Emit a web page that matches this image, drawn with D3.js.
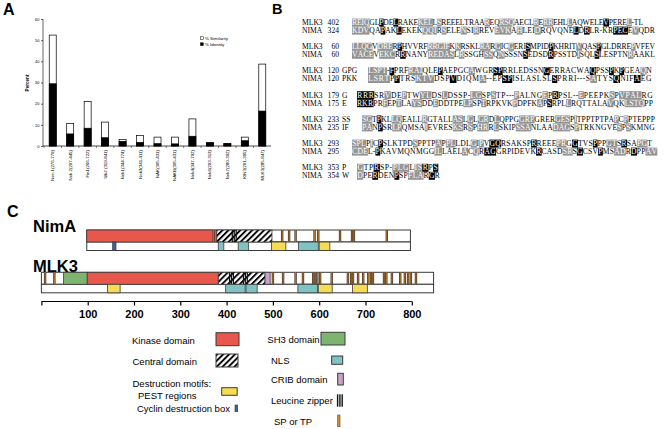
<!DOCTYPE html>
<html><head><meta charset="utf-8">
<script src="https://cdn.jsdelivr.net/npm/d3@7"></script>
<style>body{margin:0;background:#fff}svg{display:block}</style>
</head><body>
<svg id="c" width="664" height="429"></svg>
<script>
// ---------- Panel A data ----------
const categories = ["Nim-1(276-779)","Nek 2(297-445)","Fin1(266-722)","Slk2 (319-841)","Nek1(344-774)","Nek3(341-411)","NAK(305-431)","NAKB(305-431)","Nek4(347-792)","Nek6(293-313)","Nek7(280-302)","KIN3(291-395)","MLK3(285-847)"];
const similarity = [52.4,10.7,21.1,11.3,3.1,5.0,4.2,4.2,12.8,1.6,1.2,4.2,38.7];
const identity   = [29.4,5.7,8.4,3.9,2.2,1.7,1.1,1.0,4.6,1.5,1.1,2.5,16.5];
const yTicks = [0,10,20,30,40,50,60];
const legendA = ["% Similarity","% Identity"];

// ---------- Panel B data ----------
const alignNames    = ["MLK3","NIMA","MLK3","NIMA","MLK3","NIMA","MLK3","NIMA","MLK3","NIMA","MLK3","NIMA","MLK3","NIMA"];
const alignNumbers  = ["402","324","60","60","120","120","179","175","233","235","293","295","353","354"];
const alignPrefixes = ["","","","","GPG","PKK","G","E","SS","IF","","","P","W"];
const alignSeqs = [
 "[REIQ]GL{P}DE{L}RAKE[KEL]L[S]REEELTRAA[R]EQ[RSQ]AECL[R]E[RR]EHL[L]AQWELE{V}PERE[L]-TL",
 "[KDV]QA{P}AK{L}EKEK[QQI]R[S]ELE[N]SI[R]REV[EVK]A[H]LEI[D]RQVQNE{L}D{R}LR-KR{PEC}E[V]QDR",
 "[LLQG]V[DRE]R{P}HVVRF[RRG][IF]K[K]RSKL[RA]R[G]IC[G]ERI{S}MPID{P}KHRIT[V]QAS{P}GLDRRE[P]VFEV",
 "[VACE]V[EKC]R{R}NANY[RED][AS]L[R]SSGH[SS]Q[N]SSSN{S}EDSD{R}PSSTD[I]SQL{S}LESPTN[R]AAKL",
 "[LSPT]-{F}PRF[RAI]QLE{P}AEPGC[A]WGR{SP}RRLEDSSN{G}ERRACWA{Q}PSS{P}K{P}GEA[Q]N",
 "[LSRT]P{P}TRS[KTV]DSP{V}DIQM[A]--EP{SP}ISLASLSL{S}PRRI---S[A]TYS{Q}NIF{A}EG",
 "{RRR}SR[V]DE[P]TW[YL]DS[L]DSSP-[LG]SP[S]TP---[P]ALNG[E]P{R}PSL--[E]PEEPK[S]P[VPAL]RG",
 "{RKR}PR[F]EP[T]LA[YS]DD[E]DDTPE[LP]SP[T]RPKVK[P]DPFK[A]P{S}RPL[L]RQTTALA[V]QK[LSTQ]PP",
 "[SG]T{P}KL[LQ]EALL[R]GTALL[AS]L[G]L[GR]D[L]QPPG[GRP]GRER[GES]P[I]TPPTPTPA[P]C[P]PTEPPP",
 "[PA]N{P}SR[LP]QMSA[I]EVRES[KS]R[S]P[HR]R[L]SKIP[SSA]NLAA[DAG]S[P]TRKNGVE[S]P[S]KMNG",
 "[SPL]P[I]C{P}SLKTPD[S]PPTP[A]P[PL]LDL[G]I[P]V{GQ}RSAKSP{R}REEE[PR]G{G}TVS{P}PP[GT]S{R}SA[PG]T",
 "[CDE]L-{P}KAVMQNMGG[IL]LAEL[A]C[Q]R{AG}GRPIDEVK{R}CASD[SR]S{G}CSV{P}MS[AD]R{D}PP[AV]",
 "[G]TP{R}SP-[PLG]L[IS]{R}P{S}",
 "[D]PE{R}DEN{P}SP[FLA]R{G}R"
];

// ---------- Panel C data ----------
const mlk3Length = 847, nimaLength = 699, nimaOffset = 98;
const axisTicks = [0,100,200,300,400,500,600,700,800];
const mlk3Domains = [
 {type:"sh3",start:48,end:99},{type:"kinase",start:99,end:382},
 {type:"central",start:382,end:483},{type:"crib",start:483,end:494}];
const mlk3Zipper = [{start:405,end:416},{start:435,end:446}];
const mlk3SPTP = [8,28,500,522,549,565,587,591,596,602,627,662,669,673,684,695,706,712,716,740,745,757,775,785,792,798,809];
const mlk3Motifs = [
 {type:"pest",start:143,end:170},{type:"nls",start:398,end:440},{type:"nls",start:442,end:466},
 {type:"nls",start:554,end:596},{type:"pest",start:598,end:628},{type:"pest",start:672,end:704}];
const nimaDomains = [{type:"kinase",start:0,end:281},{type:"central",start:281,end:400}];
const nimaZipper = [{start:313,end:324}];
const nimaSPTP = [274,422,437,451,492,500,547,573,577,648];
const nimaMotifs = [
 {type:"cdb",start:56,end:63},{type:"nls",start:284,end:296},{type:"nls",start:327,end:349},
 {type:"pest",start:399,end:430},{type:"nls",start:457,end:500},{type:"pest",start:502,end:525}];

// ---------- styles ----------
const colors = {kinase:"#e8574b", sh3:"#7db56f", nls:"#80c3c3", pest:"#f6dc55", crib:"#c9a2c9", cdb:"#3d5fa8", sptp:"#d08a2e"};
const edge = "#3a3a3a";
const sans = "Liberation Sans, Arial, Helvetica, sans-serif";
const serif = "Liberation Serif, Times New Roman, serif";

const svg = d3.select("#c");
const defs = svg.append("defs");
const pat = defs.append("pattern").attr("id","hatch").attr("patternUnits","userSpaceOnUse")
  .attr("width",4.2).attr("height",4.2).attr("patternTransform","rotate(45)");
pat.append("rect").attr("width",4.2).attr("height",4.2).attr("fill","#fff");
pat.append("rect").attr("x",0).attr("width",1.9).attr("height",4.2).attr("fill","#000");

// panel labels
[["A",3,15,16],["B",272,13.5,14.5],["C",7,217,16]].forEach(([t,x,y,s])=>{
  svg.append("text").attr("x",x).attr("y",y).attr("font-family",sans).attr("font-weight","bold")
    .attr("font-size",s).text(t);
});

// ================= Panel A =================
{
  const gA = svg.append("g");
  const x = d3.scaleBand().domain(categories).range([44,271]).paddingInner(0.6).paddingOuter(0.3);
  const y = d3.scaleLinear().domain([0,60]).range([146,19]);
  const yAx = gA.append("g").attr("transform","translate(43,0)")
    .call(d3.axisLeft(y).tickValues(yTicks).tickSize(2).tickPadding(1.5));
  yAx.selectAll("text").attr("font-size",4).attr("font-family",sans);
  yAx.selectAll("line,path").attr("stroke","#000").attr("stroke-width",0.6);
  yAx.select("path").attr("d","M0,"+y(60)+"V"+y(0));
  gA.append("text").attr("transform","translate(29,83) rotate(-90)").attr("text-anchor","middle")
    .attr("font-family",sans).attr("font-size",4.6).attr("font-weight","bold").text("Percent");
  gA.append("line").attr("x1",43).attr("x2",271).attr("y1",146).attr("y2",146).attr("stroke","#000").attr("stroke-width",0.7);
  const step = x.step();
  categories.forEach((c,i)=>{
    const bx = x(c) - step*0.3;
    gA.append("line").attr("x1",bx).attr("x2",bx).attr("y1",146).attr("y2",148).attr("stroke","#000").attr("stroke-width",0.5);
  });
  const bars = gA.selectAll(".bar").data(categories).enter().append("g");
  bars.append("rect").attr("x",c=>x(c)).attr("width",x.bandwidth())
    .attr("y",(c,i)=>y(similarity[i])).attr("height",(c,i)=>y(0)-y(similarity[i]))
    .attr("fill","#fff").attr("stroke","#000").attr("stroke-width",0.7);
  bars.append("rect").attr("x",c=>x(c)).attr("width",x.bandwidth())
    .attr("y",(c,i)=>y(identity[i])).attr("height",(c,i)=>y(0)-y(identity[i]))
    .attr("fill","#000").attr("stroke","#000").attr("stroke-width",0.7);
  bars.append("text").attr("transform",c=>`translate(${x(c)+x.bandwidth()/2+1.5},150) rotate(-90)`)
    .attr("text-anchor","end").attr("font-family",sans).attr("font-size",4.4).text(c=>c);
  legendA.forEach((t,i)=>{
    gA.append("rect").attr("x",200.5).attr("y",36.8+i*6).attr("width",2.8).attr("height",2.8)
      .attr("fill",i===0?"#fff":"#000").attr("stroke","#000").attr("stroke-width",0.5);
    gA.append("text").attr("x",205).attr("y",39.6+i*6).attr("font-family",sans).attr("font-size",4.4).text(t);
  });
}

// ================= Panel B =================
{
  const gB = svg.append("g");
  const fs = 7.6;
  const meas = gB.append("text").attr("font-family",serif).attr("font-size",fs).attr("visibility","hidden");
  const cache = {};
  const cw = ch => { if(!(ch in cache)){ meas.text(ch); cache[ch]=meas.node().getComputedTextLength(); } return cache[ch]; };
  const parse = s => { const o=[]; let m='.'; for(const c of s){ if(c==='['){m='g';continue;} if(c==='{'){m='k';continue;} if(c===']'||c==='}'){m='.';continue;} o.push({c,m}); } return o; };
  const blockStartX = [352,352,368,357,362,352,357];
  const rowEndX = [643,655,655,655,652,652,653,653,655,655,652,657,438,440];
  alignSeqs.forEach((s,i)=>{
    const b = Math.floor(i/2);
    const yb = 25 + b*24.2 + (i%2)*8;
    gB.append("text").attr("x",302).attr("y",yb).attr("font-family",serif).attr("font-size",fs).text(alignNames[i]);
    gB.append("text").attr("x",339).attr("y",yb).attr("text-anchor","end").attr("font-family",serif).attr("font-size",fs).text(alignNumbers[i]);
    if(alignPrefixes[i]) gB.append("text").attr("x",342).attr("y",yb).attr("font-family",serif).attr("font-size",fs).text(alignPrefixes[i]);
    const chars = parse(s);
    const W = d3.sum(chars, d=>cw(d.c));
    const x0 = blockStartX[b];
    const k = (rowEndX[i]-x0)/W;
    let cum = 0;
    chars.forEach(d=>{ d.x = x0 + cum*k; d.w = cw(d.c)*k; cum += cw(d.c); });
    gB.selectAll(null).data(chars.filter(d=>d.m!=='.')).enter().append("rect")
      .attr("x",d=>d.x).attr("width",d=>d.w+0.3).attr("y",yb-6.4).attr("height",8)
      .attr("fill",d=>d.m==='k'?"#000":"#939393");
    gB.selectAll(null).data(chars).enter().append("text")
      .attr("x",d=>d.x+d.w/2).attr("y",yb).attr("text-anchor","middle")
      .attr("font-family",serif).attr("font-size",fs)
      .attr("fill",d=>d.m==='.'?"#000":"#fff").text(d=>d.c);
  });
  meas.remove();
}

// ================= Panel C =================
{
  const gC = svg.append("g");
  const x = d3.scaleLinear().domain([0,800]).range([41.4,411.8]);
  const fillOf = t => t==="central" ? "url(#hatch)" : colors[t];
  function drawProtein(offset, len, domains, zipper, sptp, motifs, yTop){
    const hT = 12, hB = 8.5;
    const X = v => x(v+offset);
    gC.append("rect").attr("x",X(0)).attr("y",yTop).attr("width",X(len)-X(0)).attr("height",hT)
      .attr("fill","#fff").attr("stroke",edge).attr("stroke-width",1);
    gC.append("rect").attr("x",X(0)).attr("y",yTop+hT).attr("width",X(len)-X(0)).attr("height",hB)
      .attr("fill","#fff").attr("stroke",edge).attr("stroke-width",1);
    domains.forEach(d=>{
      gC.append("rect").attr("x",X(d.start)).attr("y",yTop).attr("width",X(d.end)-X(d.start)).attr("height",hT)
        .attr("fill",fillOf(d.type)).attr("stroke",edge).attr("stroke-width",0.8);
    });
    zipper.forEach(z=>{
      const a=X(z.start), b=X(z.end);
      [0,0.5,1].forEach(f=>{
        gC.append("rect").attr("x",a+(b-a-1.2)*f).attr("y",yTop).attr("width",1.2).attr("height",hT).attr("fill","#111");
      });
    });
    sptp.forEach(p=>{
      gC.append("rect").attr("x",X(p)-1.2).attr("y",yTop).attr("width",2.4).attr("height",hT).attr("fill","#4e3e2e");
      gC.append("rect").attr("x",X(p)-0.35).attr("y",yTop).attr("width",0.7).attr("height",hT).attr("fill",colors.sptp);
    });
    motifs.forEach(m=>{
      gC.append("rect").attr("x",X(m.start)).attr("y",yTop+hT).attr("width",X(m.end)-X(m.start)).attr("height",hB)
        .attr("fill",colors[m.type]).attr("stroke",edge).attr("stroke-width",0.8);
    });
  }
  gC.append("text").attr("x",33).attr("y",232).attr("font-family",sans).attr("font-weight","bold").attr("font-size",16.5).text("NimA");
  gC.append("text").attr("x",33).attr("y",271.5).attr("font-family",sans).attr("font-weight","bold").attr("font-size",16.5).text("MLK3");
  drawProtein(nimaOffset, nimaLength, nimaDomains, nimaZipper, nimaSPTP, nimaMotifs, 230);
  drawProtein(0, mlk3Length, mlk3Domains, mlk3Zipper, mlk3SPTP, mlk3Motifs, 272.3);
  const ax = gC.append("g").attr("transform","translate(0,301.5)")
    .call(d3.axisBottom(x).tickValues(axisTicks).tickSize(4).tickPadding(5).tickFormat(d=>d===0?"":d));
  ax.select("path").attr("d","M"+x(0)+",0H"+x(800)).attr("stroke","#000").attr("stroke-width",1.2);
  ax.selectAll("line").attr("stroke","#000").attr("stroke-width",1.2);
  ax.selectAll("text").attr("font-family",sans).attr("font-weight","bold").attr("font-size",11).attr("fill","#000");

  const lt = (t,xx,yy)=>gC.append("text").attr("x",xx).attr("y",yy).attr("font-family",sans).attr("font-size",9.5).text(t);
  lt("Kinase domain",132,344);
  gC.append("rect").attr("x",216).attr("y",332.7).attr("width",23).attr("height",13).attr("fill",colors.kinase).attr("stroke",edge);
  lt("Central domain",132.5,365);
  gC.append("rect").attr("x",216).attr("y",354).attr("width",22).attr("height",13).attr("fill","url(#hatch)").attr("stroke",edge);
  lt("Destruction motifs:",132.5,386.6);
  lt("PEST regions",138,399.3);
  gC.append("rect").attr("x",221.7).attr("y",387.7).attr("width",15.5).attr("height",7.6).attr("fill",colors.pest).attr("stroke",edge);
  lt("Cyclin destruction box",137,411.6);
  gC.append("rect").attr("x",235).attr("y",405).attr("width",2.7).attr("height",6.7).attr("fill",colors.cdb).attr("stroke",edge).attr("stroke-width",0.6);
  lt("SH3 domain",267.3,343.3);
  gC.append("rect").attr("x",321).attr("y",332.3).attr("width",24).attr("height",12.7).attr("fill",colors.sh3).attr("stroke",edge);
  lt("NLS",271,364.3);
  gC.append("rect").attr("x",331.7).attr("y",356).attr("width",11).attr("height",8.3).attr("fill",colors.nls).attr("stroke",edge);
  lt("CRIB domain",271,382.6);
  gC.append("rect").attr("x",337.7).attr("y",373.3).attr("width",5.6).attr("height",11.7).attr("fill",colors.crib).attr("stroke",edge);
  lt("Leucine zipper",271,404);
  [0,1,2].forEach(i=>gC.append("rect").attr("x",336.9+i*2.3).attr("y",394.3).attr("width",1.4).attr("height",12.4).attr("fill","#111"));
  lt("SP or TP",274,425);
  gC.append("rect").attr("x",337.7).attr("y",415).attr("width",2.3).attr("height",11.7).attr("fill",colors.sptp).attr("stroke","#5a4632").attr("stroke-width",0.6);
}
</script>
</body></html>
